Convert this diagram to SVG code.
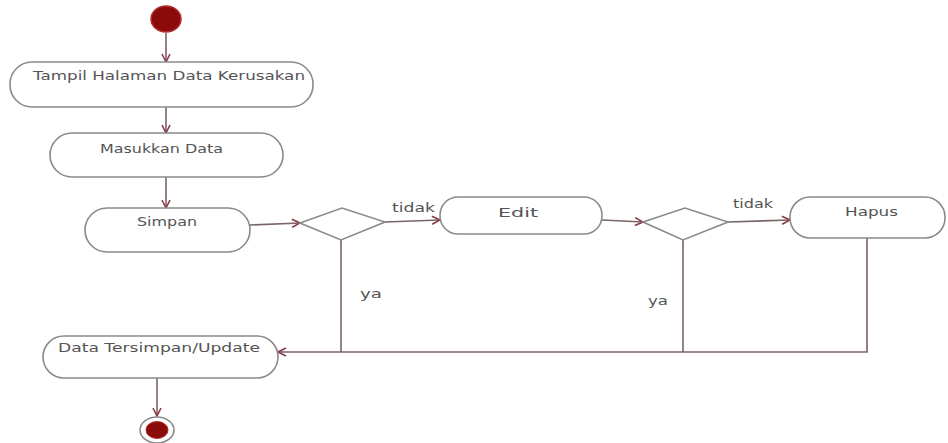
<svg xmlns="http://www.w3.org/2000/svg" width="948" height="443" viewBox="0 0 948 443">
<style>
.node{fill:#ffffff;stroke:#8a8a8a;stroke-width:1.6}
.dec{fill:#ffffff;stroke:#8a8a8a;stroke-width:1.6}
.lbl{font-family:"DejaVu Sans","Liberation Sans",sans-serif;font-size:12px;fill:#555555}
.edge{fill:none;stroke:#7a6464;stroke-width:1.6}
</style>
<defs>
<marker id="arr" viewBox="0 0 10 10" refX="9" refY="5" markerWidth="10" markerHeight="10" markerUnits="userSpaceOnUse" orient="auto">
<path d="M1,1 L9,5 L1,9" fill="none" stroke="#8a3a4a" stroke-width="1.6"/>
</marker>
</defs>
<rect width="948" height="443" fill="#ffffff"/>
<g id="connectors">
<path class="edge" d="M166,33 L166,62" marker-end="url(#arr)"/>
<path class="edge" d="M166,107 L166,133" marker-end="url(#arr)"/>
<path class="edge" d="M166,177 L166,208" marker-end="url(#arr)"/>
<path class="edge" d="M250,225 L300,223" marker-end="url(#arr)"/>
<path class="edge" d="M385,222 L440,220" marker-end="url(#arr)"/>
<path class="edge" d="M602,220 L643,222" marker-end="url(#arr)"/>
<path class="edge" d="M728,222 L790,220" marker-end="url(#arr)"/>
<path class="edge" d="M341,240 L341,352"/>
<path class="edge" d="M683,240 L683,352"/>
<path class="edge" d="M867,238 L867,352 L278,352" marker-end="url(#arr)"/>
<path class="edge" d="M157,378 L157,416" marker-end="url(#arr)"/>
<text class="lbl" x="392" y="212" textLength="43" lengthAdjust="spacingAndGlyphs">tidak</text>
<text class="lbl" x="733" y="208" textLength="40" lengthAdjust="spacingAndGlyphs">tidak</text>
<text class="lbl" x="360" y="298" textLength="22" lengthAdjust="spacingAndGlyphs">ya</text>
<text class="lbl" x="648" y="305" textLength="20" lengthAdjust="spacingAndGlyphs">ya</text>
</g>
<g id="start">
<ellipse cx="166" cy="19" rx="15" ry="13" fill="#8b0a0a" stroke="#b03030" stroke-width="1.5"/>
</g>
<g id="tampil">
<rect class="node" x="10" y="62" width="303" height="45" rx="22" ry="22"/>
<text class="lbl" x="33" y="80" textLength="272" lengthAdjust="spacingAndGlyphs">Tampil Halaman Data Kerusakan</text>
</g>
<g id="masukkan">
<rect class="node" x="50" y="133" width="233" height="44" rx="22" ry="22"/>
<text class="lbl" x="100" y="153" textLength="123" lengthAdjust="spacingAndGlyphs">Masukkan Data</text>
</g>
<g id="simpan">
<rect class="node" x="85" y="208" width="165" height="44" rx="22" ry="22"/>
<text class="lbl" x="137" y="226" textLength="60" lengthAdjust="spacingAndGlyphs">Simpan</text>
</g>
<g id="decision1">
<polygon class="dec" points="300,223 342,208 385,222 341,240"/>
</g>
<g id="edit">
<rect class="node" x="440" y="197" width="162" height="37" rx="18" ry="18"/>
<text class="lbl" x="498" y="217" textLength="40" lengthAdjust="spacingAndGlyphs">Edit</text>
</g>
<g id="decision2">
<polygon class="dec" points="643,222 685,208 728,222 683,240"/>
</g>
<g id="hapus">
<rect class="node" x="790" y="197" width="155" height="41" rx="20" ry="20"/>
<text class="lbl" x="845" y="216" textLength="53" lengthAdjust="spacingAndGlyphs">Hapus</text>
</g>
<g id="tersimpan">
<rect class="node" x="43" y="336" width="235" height="42" rx="21" ry="21"/>
<text class="lbl" x="58" y="352" textLength="202" lengthAdjust="spacingAndGlyphs">Data Tersimpan/Update</text>
</g>
<g id="end">
<ellipse cx="157" cy="430" rx="17" ry="13" fill="#ffffff" stroke="#8a8a8a" stroke-width="1.6"/>
<ellipse cx="157" cy="430" rx="11" ry="8.5" fill="#8b0a0a" stroke="#b03030" stroke-width="1"/>
</g>
</svg>
